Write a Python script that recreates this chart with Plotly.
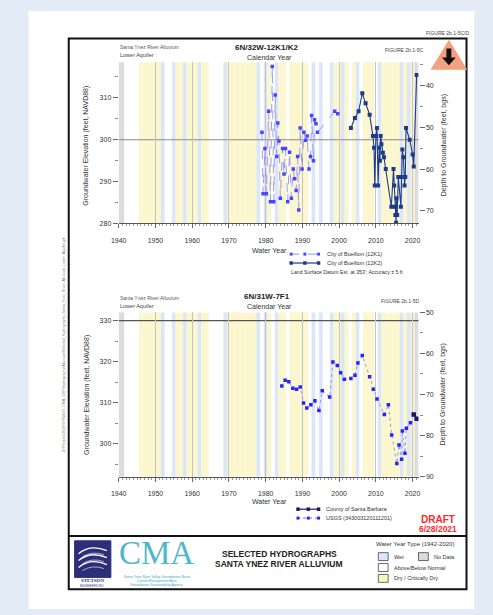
import plotly.graph_objects as go

W, H = 493, 615
def X(px): return px / W
def Y(py): return 1 - py / H

# ---------------- data ----------------
# 6N/32W-12K1 (City of Buellton) groundwater elevation, ft NAVD88
k1_year = [1979.0, 1979.3, 1979.8, 1980.2, 1980.8, 1981.3, 1981.8, 1982.2, 1982.6, 1983.0,
           1983.3, 1983.6, 1984.0, 1984.6, 1985.0, 1985.4, 1986.0, 1986.5, 1987.0, 1987.5,
           1987.9, 1988.3, 1988.7, 1989.0, 1989.4, 1989.9, 1990.4, 1990.9, 1991.3, 1991.8,
           1992.2, 1992.5, 1993.0, 1993.3, 1993.7, 1994.1, 1998.8, 1999.6]
k1_elev = [301.8, 287.1, 297.9, 287.1, 306.8, 285.2, 317.5, 285.2, 310.7, 296.0,
           304.0, 299.7, 286.0, 297.9, 291.8, 297.9, 285.2, 297.0, 286.0, 293.0,
           290.7, 287.9, 296.0, 283.2, 302.8, 293.0, 301.8, 299.9, 300.9, 293.0,
           296.0, 305.8, 295.0, 304.8, 303.8, 301.8, 306.8, 306.2]
# 6N/32W-12K2 (City of Buellton)
k2_year = [2003.2, 2004.3, 2005.3, 2006.3, 2007.2, 2008.3, 2009.2, 2009.5, 2009.7, 2010.0,
           2010.3, 2010.6, 2010.9, 2011.1, 2011.3, 2011.5, 2011.9, 2012.2, 2012.7, 2014.2,
           2014.8, 2015.0, 2015.1, 2015.3, 2015.5, 2015.6, 2015.8, 2016.1, 2016.8, 2017.0,
           2017.2, 2017.5, 2017.8, 2018.0, 2018.2, 2019.2, 2020.0, 2020.3, 2021.1]
k2_elev = [302.8, 305.2, 306.8, 311.1, 308.7, 306.0, 300.9, 298.1, 289.1, 300.9,
           302.8, 289.1, 298.1, 295.0, 300.9, 298.9, 296.9, 295.8, 293.0, 284.0,
           293.0, 289.1, 284.0, 282.0, 280.2, 286.0, 282.0, 291.1, 284.0, 291.1,
           297.7, 295.8, 289.1, 291.1, 302.8, 300.0, 296.5, 293.6, 315.5]
# 6N/31W-7F1
usgs_year = [1984.4, 1985.3, 1986.3, 1987.4, 1988.4, 1989.4, 1990.3, 1991.2, 1992.3, 1993.4,
             1994.5, 1995.4, 1997.4, 1998.3, 1999.5, 2000.4, 2001.4, 2003.2, 2004.3, 2005.1,
             2006.3, 2008.3, 2009.3, 2010.3, 2012.3, 2013.4, 2014.3, 2015.7, 2016.3, 2017.0,
             2017.2, 2017.9, 2018.3, 2019.4]
usgs_elev = [314.1, 315.5, 315.1, 313.5, 313.3, 313.8, 309.9, 308.7, 309.5, 310.5,
             308.1, 312.9, 311.4, 319.9, 319.1, 317.3, 315.7, 315.9, 316.7, 319.7,
             321.5, 316.3, 313.3, 310.9, 307.1, 309.5, 302.1, 295.2, 299.7, 296.2,
             303.1, 297.7, 303.8, 305.1]
county_year = [2020.3, 2021.1]
county_elev = [307.1, 306.1]

# water year types (1942-2020); years not listed are Dry / Critically Dry
wet_years = [1952, 1955, 1958, 1962, 1969, 1978, 1980, 1983, 1993, 1995, 1998, 2001,
             2005, 2011, 2017, 2019]
normal_years = [1942, 1943, 1944, 1945, 1953, 1954, 1965, 1966, 1967, 1968, 1979, 1982,
                1986, 1992, 1994, 1996, 1997, 2003, 2006, 2010]
wy_first, wy_last = 1942, 2020

x_ticks = list(range(1940, 2030, 10))
top_elev_ticks = [280, 290, 300, 310]
top_depth_ticks = [40, 50, 60, 70]
bot_elev_ticks = [300, 310, 320, 330]
bot_depth_ticks = [50, 60, 70, 80, 90]
LAND_TOP = 353.0
LAND_BOT = 382.0
TOP_RANGE = [280, 318.5]
BOT_RANGE = [292, 332]
X_RANGE = [1940, 2021.6]

# ---------------- figure ----------------
FONT = "Liberation Sans"
fig = go.Figure()

c_k1_line, c_k1_mk = "#8f8fff", "#4646ff"
c_k2 = "#1d3a8c"
c_usgs_line, c_usgs_mk = "#8a8aff", "#2424ff"
c_cty = "#16166e"

fig.add_trace(go.Scatter(x=k1_year, y=k1_elev, mode="lines+markers", xaxis="x", yaxis="y",
                         line=dict(color=c_k1_line, width=0.9, dash="dash"),
                         marker=dict(symbol="square", size=3.5, color=c_k1_mk), showlegend=False))
fig.add_trace(go.Scatter(x=k2_year, y=k2_elev, mode="lines+markers", xaxis="x", yaxis="y",
                         line=dict(color=c_k2, width=1.1),
                         marker=dict(symbol="square", size=4, color=c_k2), showlegend=False))
fig.add_trace(go.Scatter(x=k2_year, y=[LAND_TOP - e for e in k2_elev], mode="markers",
                         xaxis="x", yaxis="y2", marker=dict(opacity=0), hoverinfo="skip",
                         showlegend=False))
fig.add_trace(go.Scatter(x=usgs_year, y=usgs_elev, mode="lines+markers", xaxis="x2", yaxis="y3",
                         line=dict(color=c_usgs_line, width=0.9, dash="dot"),
                         marker=dict(symbol="square", size=3.5, color=c_usgs_mk), showlegend=False))
fig.add_trace(go.Scatter(x=county_year, y=county_elev, mode="lines+markers", xaxis="x2", yaxis="y3",
                         line=dict(color=c_cty, width=1.1),
                         marker=dict(symbol="square", size=4.5, color=c_cty), showlegend=False))
fig.add_trace(go.Scatter(x=usgs_year, y=[LAND_BOT - e for e in usgs_elev], mode="markers",
                         xaxis="x2", yaxis="y4", marker=dict(opacity=0), hoverinfo="skip",
                         showlegend=False))

tickfont = dict(family=FONT, size=7, color="#333")
def xaxis_cfg(anchor):
    return dict(domain=[X(113), X(419)], anchor=anchor, range=X_RANGE, tickvals=x_ticks,
                ticks="outside", ticklen=4, tickcolor="#666", tickfont=tickfont,
                ticklabelstandoff=6, showgrid=True, gridcolor="#c4c4c4", gridwidth=1,
                showline=True, linecolor="#555", linewidth=1, zeroline=False,
                minor=dict(dtick=1, tick0=1940, ticks="outside", ticklen=2, tickcolor="#999",
                           showgrid=False))
def yaxis_cfg(dom, rng, vals, side="left", overlay=None, anchor=None):
    d = dict(domain=dom, range=rng, tickvals=vals, ticks="outside", ticklen=5,
             tickcolor="#666", tickfont=tickfont, showgrid=False, zeroline=False,
             showline=False, side=side,
             minor=dict(dtick=5, ticks="outside", ticklen=3, tickcolor="#888", showgrid=False))
    if overlay:
        d["overlaying"] = overlay
        d.pop("domain")
    if anchor:
        d["anchor"] = anchor
    return d

shapes = []
# page
shapes.append(dict(type="rect", xref="paper", yref="paper", x0=X(21), x1=X(476), y0=Y(612),
                   y1=Y(7), fillcolor="white", line=dict(width=0), layer="below"))

# water year bands
wet_c, dry_c, nod_c = "#dbe6f8", "#fbf6cc", "#dcdcdc"
for xr, yr in (("x", "y domain"), ("x2", "y3 domain")):
    for yv in range(wy_first, wy_last + 1):
        if yv in normal_years:
            continue
        col = wet_c if yv in wet_years else dry_c
        shapes.append(dict(type="rect", xref=xr, yref=yr, x0=yv - 0.5, x1=yv + 0.5, y0=0, y1=1,
                           fillcolor=col, line=dict(width=0), layer="below"))
    for a, b in ((X_RANGE[0], wy_first - 0.5), (wy_last + 0.5, X_RANGE[1])):
        shapes.append(dict(type="rect", xref=xr, yref=yr, x0=a, x1=b, y0=0, y1=1,
                           fillcolor=nod_c, line=dict(width=0), layer="below"))

# reference horizontal lines
shapes.append(dict(type="line", xref="x domain", yref="y", x0=0, x1=1, y0=300, y1=300,
                   line=dict(color="#8a8a8a", width=1), layer="below"))
shapes.append(dict(type="line", xref="x2 domain", yref="y3", x0=0, x1=1, y0=330, y1=330,
                   line=dict(color="#555", width=1.3), layer="below"))

# frame
shapes.append(dict(type="rect", xref="paper", yref="paper", x0=X(62), x1=X(468), y0=Y(592),
                   y1=Y(35), line=dict(color="#111", width=2), fillcolor="rgba(0,0,0,0)"))
shapes.append(dict(type="line", xref="paper", yref="paper", x0=X(62), x1=X(468), y0=Y(538),
                   y1=Y(538), line=dict(color="#111", width=2)))

def P(pts):
    return "M " + " L ".join(f"{X(a):.5f},{Y(b):.5f}" for a, b in pts) + " Z"

# warning triangle with down arrow
shapes.append(dict(type="path", xref="paper", yref="paper",
                   path=P([(450, 39), (466, 65), (434, 65)]),
                   fillcolor="#f3a27f", line=dict(color="#f3a27f", width=3)))
shapes.append(dict(type="path", xref="paper", yref="paper",
                   path=P([(447.5, 45), (452.5, 45), (452.5, 54), (457, 54), (450, 62),
                           (443, 54), (447.5, 54)]),
                   fillcolor="#111", line=dict(width=0)))

# legend samples
def sample(py, x0, x1, color, dash, width):
    shapes.append(dict(type="line", xref="paper", yref="paper", x0=X(x0), x1=X(x1), y0=Y(py),
                       y1=Y(py), line=dict(color=color, width=width, dash=dash)))
sample(253, 288, 318, c_k1_line, "dash", 1)
sample(262, 288, 318, c_k2, "solid", 1.2)
sample(511, 295, 318, c_cty, "solid", 1.2)
sample(520, 295, 318, c_usgs_line, "dot", 1.2)
def dots(py, xs, color, size):
    for xx in xs:
        shapes.append(dict(type="rect", xref="paper", yref="paper", x0=X(xx - size / 2),
                           x1=X(xx + size / 2), y0=Y(py + size / 2), y1=Y(py - size / 2),
                           fillcolor=color, line=dict(width=0)))
dots(253, [289, 303, 317], c_k1_mk, 3)
dots(262, [289, 303, 317], c_k2, 3.5)
dots(511, [296, 306.5, 317], c_cty, 3.5)
dots(520, [296, 306.5, 317], c_usgs_mk, 3)

# water-year-type legend boxes
for (x0, y0, col) in ((378, 555, wet_c), (419, 555, nod_c), (378, 566, "white"), (378, 577, "#fbf6c8")):
    shapes.append(dict(type="rect", xref="paper", yref="paper", x0=X(x0), x1=X(x0 + 10),
                       y0=Y(y0 + 8), y1=Y(y0), fillcolor=col, line=dict(color="#444", width=0.8)))

# Stetson logo
shapes.append(dict(type="rect", xref="paper", yref="paper", x0=X(68), x1=X(105), y0=Y(580),
                   y1=Y(543), fillcolor="#2c2f78", line=dict(color="#2c2f78", width=1)))
def curve(pts):
    return (f"M {X(pts[0][0]):.5f},{Y(pts[0][1]):.5f} Q {X(pts[1][0]):.5f},{Y(pts[1][1]):.5f} "
            f"{X(pts[2][0]):.5f},{Y(pts[2][1]):.5f}")
for dy in (0, 7, 14):
    shapes.append(dict(type="path", xref="paper", yref="paper",
                       path=curve([(72, 556 + dy), (84, 546 + dy), (101, 553 + dy)]),
                       line=dict(color="white", width=1.3)))
    shapes.append(dict(type="path", xref="paper", yref="paper",
                       path=curve([(76, 559 + dy), (86, 553 + dy), (98, 557 + dy)]),
                       line=dict(color="#c9cbe8", width=0.8)))

ann = []
def T(px, py, text, size=6, color="#333", xanchor="left", angle=0, family=FONT, bold=False):
    if bold:
        text = f"<b>{text}</b>"
    ann.append(dict(x=X(px), y=Y(py), xref="paper", yref="paper", text=text, showarrow=False,
                    xanchor=xanchor, yanchor="middle", textangle=angle,
                    font=dict(size=size, color=color, family=family)))

T(473, 29, "FIGURE 2b.1-5C/D", 5, "#444", "right")
# top chart headers
T(112, 44, "Santa Ynez River Alluvium", 5, "#555")
T(112, 51.5, "Lower Aquifer", 5.5, "#444")
T(264, 44, "6N/32W-12K1/K2", 8, "#222", "center", bold=True)
T(267, 54, "Calendar Year", 7, "#333", "center")
T(426, 47, "FIGURE 2b.1-5C", 5, "#444", "right")
T(80, 143, "Groundwater Elevation (feet, NAVD88)", 7, "#333", "center", -90)
T(445, 143, "Depth to Groundwater (feet, bgs)", 7, "#333", "center", -90)
T(267, 249, "Water Year", 7, "#333", "center")
T(324, 253, "City of Buellton (12K1)", 5.5, "#333")
T(324, 262, "City of Buellton (12K2)", 5.5, "#333")
T(287, 271, "Land Surface Datum Est. at 353'; Accuracy ± 5 ft", 5.2, "#333")
# bottom chart headers
T(112, 297, "Santa Ynez River Alluvium", 5, "#555")
T(112, 305, "Lower Aquifer", 5.5, "#444")
T(264, 296, "6N/31W-7F1", 8, "#222", "center", bold=True)
T(267, 306, "Calendar Year", 7, "#333", "center")
T(422, 300, "FIGURE 2b.1-5D", 5, "#444", "right")
T(80, 395, "Groundwater Elevation (feet, NAVD88)", 7, "#333", "center", -90)
T(443, 395, "Depth to Groundwater (feet, bgs)", 7, "#333", "center", -90)
T(267, 503, "Water Year", 7, "#333", "center")
T(323, 511, "County of Santa Barbara", 5.5, "#333")
T(323, 520, "USGS (343003120111201)", 5.5, "#333")
T(439, 521, "DRAFT", 10, "#ff2a2a", "center", bold=True)
T(439, 531, "6/28/2021", 8.5, "#ff2a2a", "center", bold=True)
# title block
T(277, 556, "SELECTED HYDROGRAPHS", 8.5, "#222", "center", bold=True)
T(277, 566, "SANTA YNEZ RIVER ALLUVIUM", 8.5, "#222", "center", bold=True)
T(415, 546, "Water Year Type (1942-2020)", 6, "#333", "center")
T(392, 559, "Wet", 5.5, "#333")
T(433, 559, "No Data", 5.5, "#333")
T(392, 570, "Above/Below Normal", 5.5, "#333")
T(392, 581, "Dry / Critically Dry", 5.5, "#333")
T(152, 555, "CMA", 33, "#4fb6cb", "center", family="Liberation Serif")
T(152, 579.5, "Santa Ynez River Valley Groundwater Basin", 3.4, "#3aa6bd", "center")
T(152, 583.5, "Central Management Area", 3.4, "#3aa6bd", "center")
T(152, 587.5, "Groundwater Sustainability Agency", 3.4, "#3aa6bd", "center")
T(86.5, 583.5, "STETSON", 5, "#2c2f78", "center", family="Liberation Serif", bold=True)
T(86.5, 588.5, "ENGINEERS INC.", 3, "#2c2f78", "center")
T(57, 345, "Z:\\Projects\\2016\\SYRWCD_CMA_GSP\\Hydrographs\\Alluvium\\Selected_Hydrographs_Santa_Ynez_River_Alluvium_Lower_Aquifer.grf",
  3.6, "#777", "center", -90)

fig.update_layout(
    width=W, height=H, margin=dict(l=0, r=0, t=0, b=0), autosize=False,
    paper_bgcolor="#e3ebf6", plot_bgcolor="white", showlegend=False,
    font=dict(family=FONT, size=7, color="#333"),
    xaxis=xaxis_cfg("y"),
    yaxis=yaxis_cfg([Y(222), Y(59)], TOP_RANGE, top_elev_ticks, anchor="x"),
    yaxis2=yaxis_cfg(None, [LAND_TOP - TOP_RANGE[0], LAND_TOP - TOP_RANGE[1]], top_depth_ticks,
                     side="right", overlay="y", anchor="x"),
    xaxis2=xaxis_cfg("y3"),
    yaxis3=yaxis_cfg([Y(478), Y(312)], BOT_RANGE, bot_elev_ticks, anchor="x2"),
    yaxis4=yaxis_cfg(None, [LAND_BOT - BOT_RANGE[0], LAND_BOT - BOT_RANGE[1]], bot_depth_ticks,
                     side="right", overlay="y3", anchor="x2"),
    shapes=shapes, annotations=ann,
)

fig.write_html("out.html")
